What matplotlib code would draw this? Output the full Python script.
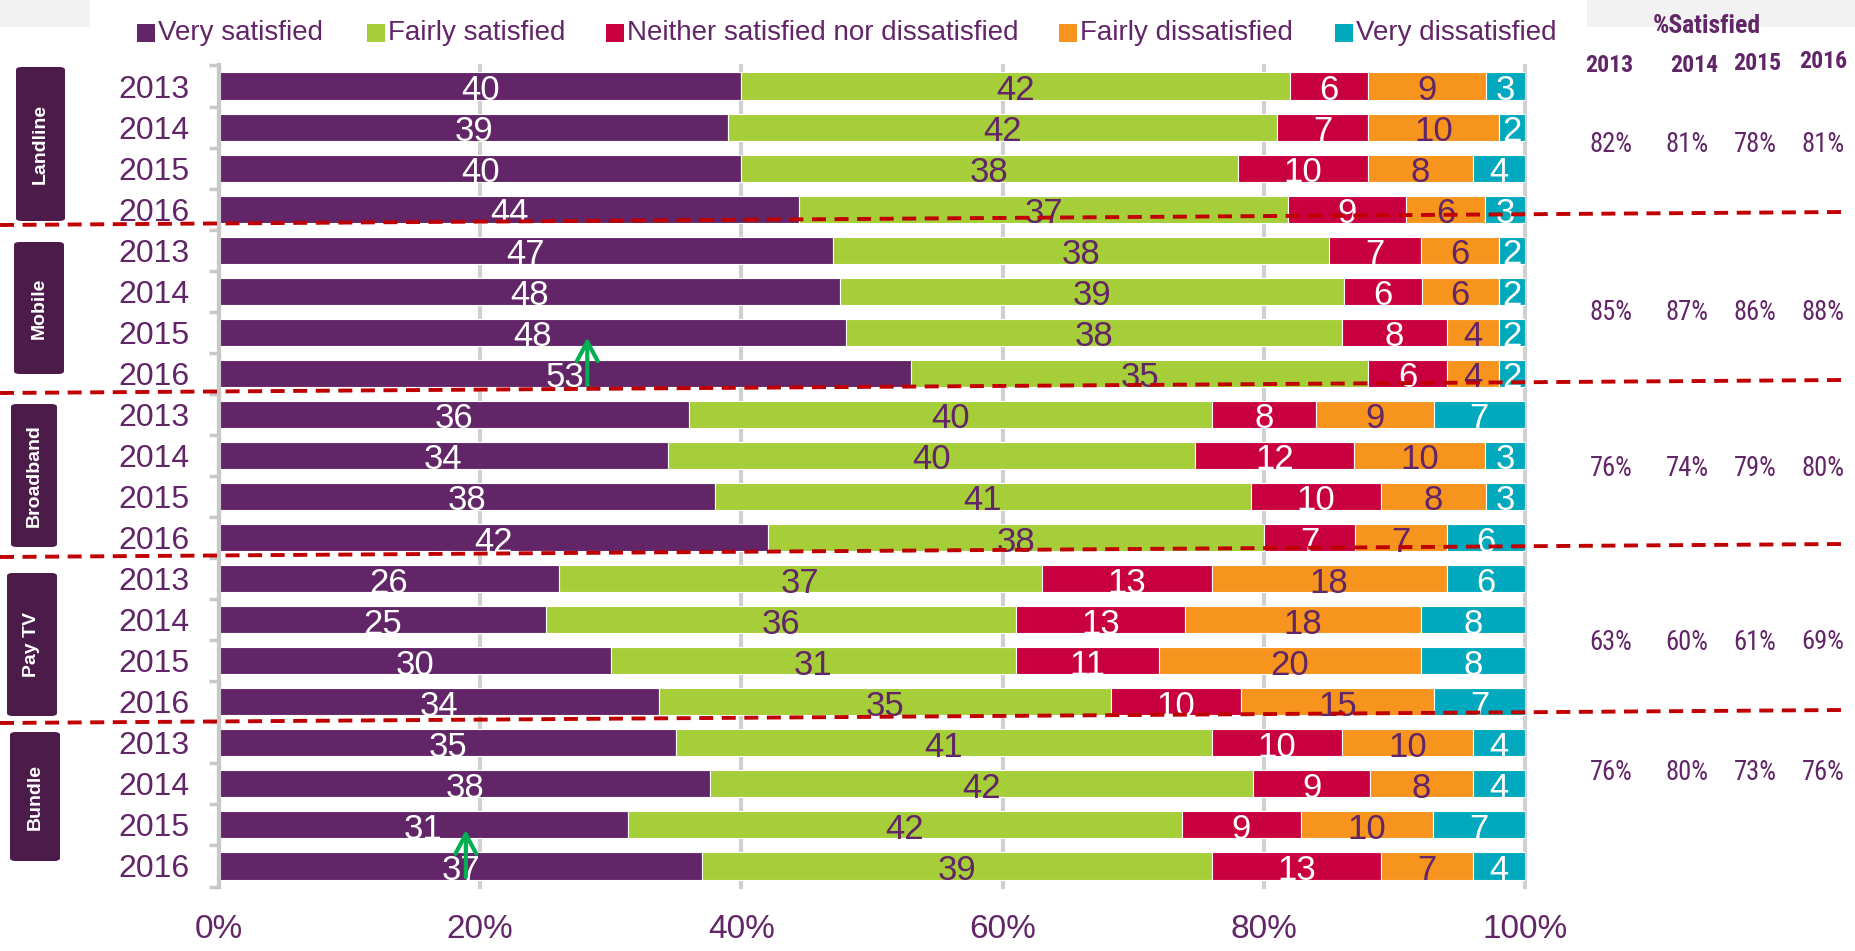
import matplotlib
matplotlib.use("Agg")
import matplotlib.pyplot as plt
from matplotlib import font_manager
from matplotlib.font_manager import FontProperties
from matplotlib.patches import Rectangle, FancyBboxPatch
from matplotlib.lines import Line2D
import numpy as np

# ---------------------------------------------------------------- data
services = ["Landline", "Mobile", "Broadband", "Pay TV", "Bundle"]
years = ["2013", "2014", "2015", "2016"]
levels = ["Very satisfied", "Fairly satisfied",
          "Neither satisfied nor dissatisfied",
          "Fairly dissatisfied", "Very dissatisfied"]

# one value per service/year row, services in order, years 2013-2016
very_satisfied      = [40, 39, 40, 44,  47, 48, 48, 53,  36, 34, 38, 42,  26, 25, 30, 34,  35, 38, 31, 37]
fairly_satisfied    = [42, 42, 38, 37,  38, 39, 38, 35,  40, 40, 41, 38,  37, 36, 31, 35,  41, 42, 42, 39]
neither             = [ 6,  7, 10,  9,   7,  6,  8,  6,   8, 12, 10,  7,  13, 13, 11, 10,  10,  9,  9, 13]
fairly_dissatisfied = [ 9, 10,  8,  6,   6,  6,  4,  4,   9, 10,  8,  7,  18, 18, 20, 15,  10,  8, 10,  7]
very_dissatisfied   = [ 3,  2,  4,  3,   2,  2,  2,  2,   7,  3,  3,  6,   6,  8,  8,  7,   4,  4,  7,  4]

# % satisfied (very + fairly) per service, 2013-2016
satisfied_landline  = [82, 81, 78, 81]
satisfied_mobile    = [85, 87, 86, 88]
satisfied_broadband = [76, 74, 79, 80]
satisfied_paytv     = [63, 60, 61, 69]
satisfied_bundle    = [76, 80, 73, 76]

x_ticks = [0, 20, 40, 60, 80, 100]

# ---------------------------------------------------------------- style
W, H = 1855, 951
PURPLE = "#622567"
colors = ["#622567", "#a6ce39", "#c8003f", "#f7941e", "#00a9bd"]
label_colors = ["white", PURPLE, "white", PURPLE, "white"]
BOX = "#4b1c4a"
GRID = "#d0d0d0"

names = {f.name for f in font_manager.fontManager.ttflist}
BASE = "Liberation Sans" if "Liberation Sans" in names else "DejaVu Sans"
plt.rcParams["font.family"] = [BASE, "DejaVu Sans"]


def find_narrow(bold):
    """Pick a narrow/condensed face if one is installed."""
    prefs = ["Liberation Sans Narrow", "Arial Narrow", "Roboto Condensed",
             "Open Sans Condensed", "Noto Sans Condensed", "DejaVu Sans Condensed"]
    cands = []
    for f in font_manager.fontManager.ttflist:
        w = f.weight if isinstance(f.weight, int) else (700 if "bold" in str(f.weight) else 400)
        isbold = w >= 600
        if isbold != bold or f.style != "normal":
            continue
        narrowish = ("Narrow" in f.name or "Condensed" in f.name
                     or str(f.stretch) in ("condensed", "semi-condensed", "extra-condensed")
                     or (isinstance(f.stretch, int) and f.stretch < 500))
        if not narrowish:
            continue
        rank = len(prefs)
        for i, p in enumerate(prefs):
            if f.name.startswith(p.split()[0]) and ("Narrow" in p) == ("Narrow" in f.name or "Narrow" in f.fname):
                rank = min(rank, i)
        if "Liberation" in f.name or "Liberation" in f.fname:
            rank = 0
        cands.append((rank, f.fname))
    if cands:
        cands.sort()
        return FontProperties(fname=cands[0][1])
    return FontProperties(family=BASE, weight="bold" if bold else "normal")


NARROW_REG = find_narrow(False)
NARROW_BOLD = find_narrow(True)


def fx(px):
    return px / W


def fy(py):
    return 1 - py / H


fig = plt.figure(figsize=(W / 100, H / 100), dpi=100)
fig.patch.set_facecolor("white")
renderer = fig.canvas.get_renderer()


def fitted_text(x, y, s, props, width_px, ref_size=19, max_size=20, **kw):
    """Figure text sized so that its rendered width is width_px."""
    fp = props.copy()
    fp.set_size(ref_size)
    t = fig.text(x, y, s, fontproperties=fp, **kw)
    w = t.get_window_extent(renderer).width
    size = min(max_size, ref_size * width_px / max(w, 1))
    fp2 = props.copy()
    fp2.set_size(size)
    t.set_fontproperties(fp2)
    return t


# light header panels
fig.patches.append(Rectangle((0, fy(27)), fx(90), 27 / H, transform=fig.transFigure,
                             facecolor="#f2f2f2", edgecolor="none", zorder=0))
fig.patches.append(Rectangle((fx(1587), fy(27)), 1 - fx(1587), 27 / H, transform=fig.transFigure,
                             facecolor="#f2f2f2", edgecolor="none", zorder=0))

ax = fig.add_axes([fx(219), fy(886.5), fx(1525) - fx(219), (886.5 - 65.5) / H])

# ---------------------------------------------------------------- bars
series = np.array([very_satisfied, fairly_satisfied, neither,
                   fairly_dissatisfied, very_dissatisfied], dtype=float)
totals = series.sum(axis=0)
shares = series / totals * 100
rows = np.arange(series.shape[1])
left = np.zeros(len(rows))
for k in range(len(levels)):
    ax.barh(rows, shares[k], left=left, height=0.66, color=colors[k],
            edgecolor="white", linewidth=0.8, label=levels[k], zorder=2)
    for r in rows:
        ax.text(left[r] + shares[k][r] / 2, r + 0.34, f"{int(series[k][r])}",
                ha="center", va="baseline", fontsize=25, color=label_colors[k], zorder=3)
    left += shares[k]

ax.set_xlim(0, 100)
ax.set_ylim(len(rows) - 0.5, -0.5)
ax.set_xticks(x_ticks)
ax.set_xticklabels([f"{v}%" for v in x_ticks])
ax.set_yticks(rows)
ax.set_yticklabels(years * len(services))
ax.set_yticks(np.arange(-0.5, len(rows), 1), minor=True)
ax.tick_params(axis="x", length=0, pad=19.5, labelsize=24, labelcolor=PURPLE)
ax.tick_params(axis="y", which="major", length=0, pad=21, labelsize=23, labelcolor=PURPLE)
ax.tick_params(axis="y", which="minor", length=7, width=2.5, color="#c8c8c8")
for s in ["top", "right", "bottom"]:
    ax.spines[s].set_visible(False)
ax.spines["left"].set_color("#c8c8c8")
ax.spines["left"].set_linewidth(3)
ax.set_axisbelow(True)
ax.xaxis.grid(True, color=GRID, linewidth=3)
ax.yaxis.grid(False)
for gl in ax.get_xgridlines():
    gl.set_clip_on(False)

# movement arrows
arrow = dict(arrowstyle="->,head_length=1.4,head_width=0.75", color="#00b050",
             lw=3, shrinkA=0, shrinkB=0)
ax.annotate("", xy=(28.2, 6.12), xytext=(28.2, 7.28), arrowprops=arrow, zorder=4)
ax.annotate("", xy=(18.9, 18.12), xytext=(18.9, 19.27), arrowprops=arrow, zorder=4)

# ---------------------------------------------------------------- legend
legend_x = [137, 367, 606, 1059, 1335]
for k, lab in enumerate(levels):
    fig.patches.append(Rectangle((fx(legend_x[k]), fy(42)), 18 / W, 18 / H,
                                 transform=fig.transFigure, facecolor=colors[k],
                                 edgecolor="none"))
    fig.text(fx(legend_x[k] + 21), fy(33), lab, ha="left", va="center",
             fontsize=20, color=PURPLE)

# ---------------------------------------------------------------- service boxes
boxes = [(16, 67, 65, 221), (14, 242, 64, 374), (11, 404, 57, 547),
         (7, 573, 57, 716), (10, 732, 60, 861)]
for name, (x0, y0, x1, y1) in zip(services, boxes):
    fig.patches.append(FancyBboxPatch((fx(x0), fy(y1)), fx(x1 - x0), (y1 - y0) / H,
                                      boxstyle="round,pad=0,rounding_size=0.003",
                                      transform=fig.transFigure, facecolor=BOX,
                                      edgecolor="none", zorder=1))
    fig.text(fx((x0 + x1) / 2), fy((y0 + y1) / 2), name, rotation=90,
             ha="center", va="center", fontsize=14, fontweight="bold", color="white")

# ---------------------------------------------------------------- group separators
separators = [(225, 212), (393, 380), (557, 544), (723, 710)]
for yl, yr in separators:
    fig.lines.append(Line2D([0, fx(1842)], [fy(yl), fy(yr)], transform=fig.transFigure,
                            color="#c00000", linewidth=2.8, dashes=(3.6, 2.2), zorder=5))

# ---------------------------------------------------------------- % satisfied panel
fitted_text(fx(1707), fy(26), "%Satisfied", NARROW_BOLD, 108,
            ha="center", va="center", color=PURPLE)
year_pos = [(1609, 65), (1694, 66), (1757, 63), (1823, 62)]
for yr, (px, py) in zip(years, year_pos):
    fitted_text(fx(px), fy(py), yr, NARROW_BOLD, 48,
                ha="center", va="center", color=PURPLE)

satisfied = [satisfied_landline, satisfied_mobile, satisfied_broadband,
             satisfied_paytv, satisfied_bundle]
col_x = [1611, 1687, 1755, 1823]
group_y = [145, 313, 468, 642, 772]
for vals, gy in zip(satisfied, group_y):
    for v, cx in zip(vals, col_x):
        fitted_text(fx(cx), fy(gy), f"{v}%", NARROW_REG, 43,
                    ha="center", va="center", color=PURPLE)

fig.savefig("out.png", dpi=100, facecolor="white")
